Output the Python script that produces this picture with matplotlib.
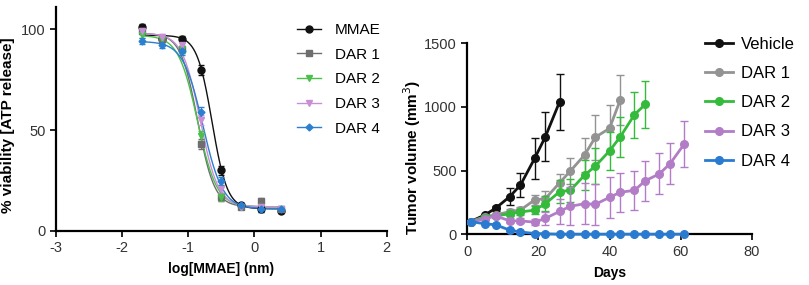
"""Two-panel figure: in vitro viability dose-response and in vivo tumor growth."""

import numpy as np
import matplotlib

matplotlib.use("Agg")
import matplotlib.pyplot as plt  # noqa: E402

plt.rcParams["font.family"] = ["Liberation Sans", "DejaVu Sans"]
plt.rcParams["axes.unicode_minus"] = False

# ---- left panel: viability vs log[MMAE] ----
log_conc = [-1.7, -1.4, -1.1, -0.8, -0.5, -0.2, 0.1, 0.4]
via_names = ["MMAE", "DAR 1", "DAR 2", "DAR 3", "DAR 4"]
via_mmae = [101, 95, 95, 80, 30, 13, 11, 10]
via_dar1 = [99, 95, 90, 43, 17, 12, 15, 11]
via_dar2 = [97, 95, 90, 47, 17, 12, 12, 11]
via_dar3 = [99, 96, 92, 55, 21, 12, 12, 11]
via_dar4 = [94, 92, 89, 59, 25, 13, 11, 11]
via_err = [1.5, 1.5, 1.5, 2.5, 2, 1, 1.5, 1]
# 4PL fit parameters: top, bottom, logIC50, hill
fit_top = [97, 98, 97, 98, 94]
fit_bottom = [11, 12, 12, 12, 11]
fit_logic50 = [-0.64, -0.86, -0.86, -0.82, -0.78]
fit_hill = [3.8, 3.4, 3.0, 3.2, 2.9]

# ---- right panel: tumor volume vs days ----
days = [1, 5, 8, 12, 15, 19, 22, 26, 29, 33, 36, 40, 43, 47, 50, 54, 57, 61]
tv_names = ["Vehicle", "DAR 1", "DAR 2", "DAR 3", "DAR 4"]
tv_vehicle = [100, 152, 204, 296, 387, 597, 767, 1042]
tv_vehicle_err = [0, 10, 20, 65, 95, 160, 195, 220]
tv_dar1 = [100, 139, 152, 178, 191, 270, 280, 405, 497, 623, 762, 832, 1055]
tv_dar1_err = [0, 10, 15, 20, 20, 40, 60, 70, 100, 130, 175, 180, 200]
tv_dar2 = [100, 130, 145, 160, 175, 190, 240, 335, 345, 465, 535, 655, 765, 940, 1020]
tv_dar2_err = [0, 10, 15, 20, 20, 30, 60, 90, 90, 120, 140, 150, 160, 180, 185]
tv_dar3 = [100, 120, 145, 105, 105, 95, 125, 180, 220, 240, 235, 290, 330, 345, 420, 475, 555, 710]
tv_dar3_err = [0, 10, 15, 20, 20, 25, 50, 100, 150, 160, 160, 160, 155, 155, 155, 160, 160, 180]
tv_dar4 = [100, 82, 75, 32, 18, 6, 3, 0, 0, 0, 0, 0, 0, 0, 0, 0, 0, 0]
tv_dar4_err = [0, 5, 5, 5, 5, 3, 2, 0, 0, 0, 0, 0, 0, 0, 0, 0, 0, 0]

W, H = 809, 285
fig = plt.figure(figsize=(W / 100, H / 100), dpi=100)

# left
ax1 = fig.add_axes([0.0692, 0.1895, 0.4088, 0.7855])
via_series = [via_mmae, via_dar1, via_dar2, via_dar3, via_dar4]
via_colors = ["#111111", "#6e6e6e", "#4cbf4c", "#c98fd6", "#2a7fd0"]
via_markers = ["o", "s", "v", "v", "D"]
via_msize = [5, 5, 5, 5, 3.5]
xs = np.linspace(-1.7, 0.4, 200)
for i, vals in enumerate(via_series):
    c = via_colors[i]
    fit = fit_bottom[i] + (fit_top[i] - fit_bottom[i]) / (1 + 10 ** ((xs - fit_logic50[i]) * fit_hill[i]))
    ax1.plot(xs, fit, color=c, lw=1.0, zorder=2)
    ax1.errorbar(log_conc, vals, yerr=via_err, fmt=via_markers[i], color=c, ms=via_msize[i],
                 elinewidth=0.8, capsize=2, zorder=3)
    ax1.plot([], [], color=c, lw=1.0, marker=via_markers[i], ms=via_msize[i], label=via_names[i])
ax1.set_xlim(-3, 2)
ax1.set_ylim(0, 111)
ax1.set_xticks([-3, -2, -1, 0, 1, 2])
ax1.set_yticks([0, 50, 100])
ax1.set_xlabel("log[MMAE] (nm)", fontsize=10, fontweight="bold", labelpad=5)
# y label placed in figure pixels so it sits hard against the left edge like the original
fig.text(8 / W, 1 - 125 / H, "% viability [ATP release]", rotation=90, ha="center", va="center",
         fontsize=11, fontweight="bold")
ax1.legend(loc="upper left", bbox_to_anchor=(0.350, 0.968), bbox_transform=fig.transFigure,
           frameon=False, fontsize=11, handlelength=1.6, labelspacing=0.7, handletextpad=0.9)

# right
ax2 = fig.add_axes([0.5773, 0.178, 0.3523, 0.670])
tv_series = [tv_vehicle, tv_dar1, tv_dar2, tv_dar3, tv_dar4]
tv_errs = [tv_vehicle_err, tv_dar1_err, tv_dar2_err, tv_dar3_err, tv_dar4_err]
tv_colors = ["#111111", "#939393", "#35bb3b", "#b27dc6", "#2a7bd0"]
for i, vals in enumerate(tv_series):
    d = days[:len(vals)]
    err = tv_errs[i]
    ax2.errorbar(d, vals, yerr=[[0] * len(err), err] if i == 4 else err, color=tv_colors[i],
                 marker="o", ms=5.5, lw=2.0, elinewidth=1.0, capsize=3, capthick=1.0,
                 label=tv_names[i], zorder=3 + i, clip_on=False)
ax2.set_xlim(0, 80)
ax2.set_ylim(0, 1500)
ax2.set_xticks([0, 20, 40, 60, 80])
ax2.set_yticks([0, 500, 1000, 1500])
ax2.set_xlabel("Days", fontsize=10, fontweight="bold", labelpad=5)
fig.text(412 / W, 1 - 157 / H, "Tumor volume (mm$^3$)", rotation=90, ha="center", va="center",
         fontsize=11, fontweight="bold")
handles, labels = ax2.get_legend_handles_labels()
handles = [h[0] for h in handles]
ax2.legend(handles, labels, loc="upper left", bbox_to_anchor=(0.853, 0.923),
           bbox_transform=fig.transFigure, frameon=False, fontsize=12,
           handlelength=1.7, labelspacing=0.85, handletextpad=0.45)

for ax in (ax1, ax2):
    for side in ("top", "right"):
        ax.spines[side].set_visible(False)
    for side in ("left", "bottom"):
        ax.spines[side].set_linewidth(1.6)
    ax.tick_params(width=1.4, length=4, labelsize=10.5, colors="#222222")
    for lbl in ax.get_xticklabels() + ax.get_yticklabels():
        lbl.set_color("#333333")

fig.savefig("out.png", dpi=100)
plt.close(fig)
